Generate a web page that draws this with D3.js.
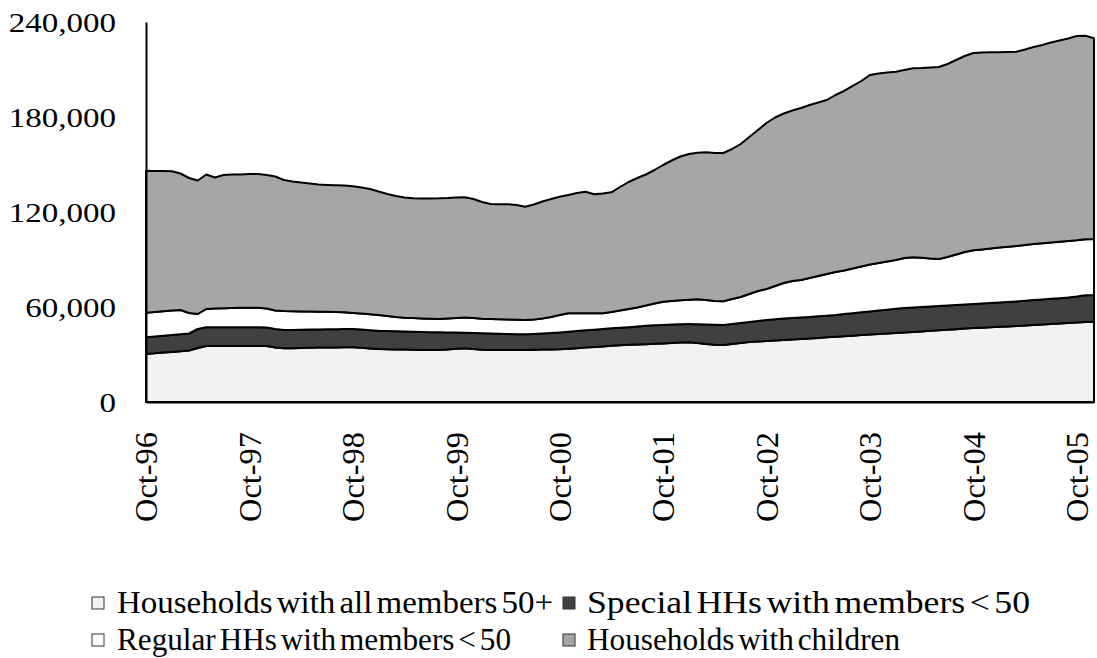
<!DOCTYPE html>
<html><head><meta charset="utf-8">
<script src="https://cdn.jsdelivr.net/npm/d3@7"></script>
<style>
body{margin:0;background:#fff}
svg{display:block}
text{font-family:"Liberation Serif","Times New Roman",serif;fill:#000}
</style>
</head><body>
<svg id="chart" width="1097" height="658"></svg>
<script>
// Monthly categories Oct-1996 .. Dec-2005 (111 months)
const months = d3.timeMonths(new Date(1996, 9, 1), new Date(2006, 0, 1));
const tickMonths = [0, 12, 24, 36, 48, 60, 72, 84, 96, 108];
const tickLabels = ["Oct-96","Oct-97","Oct-98","Oct-99","Oct-00","Oct-01","Oct-02","Oct-03","Oct-04","Oct-05"];
const yTicks = [0, 60000, 120000, 180000, 240000];

const seriesNames = ["Households with all members 50+", "Special HHs with members < 50",
                     "Regular HHs with members < 50", "Households with children"];

const allMembers50 = [
 30320,30760,31200,31580,32020,32530,34110,35370,35370,35370,
 35370,35370,35370,35370,35370,34420,33920,33980,34110,34230,
 34360,34420,34490,34550,34550,34230,33790,33470,33350,33220,
 33100,32970,32840,32840,32840,33160,33600,33920,33470,33030,
 32840,32840,32840,32840,32840,32970,33100,33220,33290,33600,
 33980,34360,34740,35120,35500,35870,36130,36320,36510,36760,
 37010,37260,37520,37710,37260,36630,36130,36000,36630,37260,
 37900,38210,38530,38840,39160,39480,39790,40110,40420,40870,
 41240,41560,41880,42250,42570,42890,43260,43580,43900,44210,
 44590,44970,45290,45660,45980,46360,46670,46930,47180,47500,
 47750,48060,48320,48630,48890,49200,49520,49830,50150,50530,
 50720];

const specialUnder50 = [
 10550,10610,10610,10740,10740,10730,12000,11810,11810,11810,
 11810,11810,11810,11810,11680,11690,11560,11500,11490,11500,
 11430,11500,11490,11560,11560,11560,11560,11560,11490,11500,
 11430,11370,11370,11250,11180,10740,10230,9850,10110,10360,
 10420,10240,10110,9980,9920,9980,10160,10360,10610,10740,
 10860,10930,10920,10990,11050,11000,11110,11370,11620,11750,
 11690,11630,11560,11550,11880,12320,12630,12630,12630,12640,
 12630,12950,13260,13460,13580,13570,13580,13580,13710,13640,
 13710,14020,14210,14400,14590,14900,15040,15290,15470,15480,
 15410,15350,15340,15290,15290,15280,15230,15280,15350,15340,
 15410,15480,15600,15730,15910,15980,16040,16170,16480,16920,
 16860];

const regularUnder50 = [
 15530,15470,15480,15470,15350,12950,9470,11560,11880,12000,
 12190,12320,12380,12380,12010,11680,12000,11870,11620,11430,
 11240,11050,10860,10540,10100,10040,10040,9920,9480,8970,
 8710,8710,8590,8520,8400,8840,9220,9600,9470,9220,
 9160,9150,9160,9100,9030,9160,9480,10110,11050,11680,
 11180,10730,10360,9980,10290,10920,11500,12000,12820,13700,
 14590,14900,15150,15350,15720,15470,15030,14970,15790,16420,
 17680,18950,19580,20970,22420,23370,23690,24630,25450,26330,
 27160,27470,28230,28930,29680,30000,30440,30820,31580,31700,
 31080,30310,29690,30630,31890,33100,33910,34110,34420,34680,
 34860,34990,35240,35430,35500,35560,35620,35690,35500,35310,
 35370];

const withChildren = [
 89690,89060,88610,87920,86210,85270,84320,84950,82730,84190,
 84320,84190,84440,84440,84310,84640,82740,81920,81420,80840,
 80340,80090,80030,80030,80020,79650,79140,78000,77050,76420,
 75920,75610,75730,75990,76240,76110,76110,75980,75160,73710,
 72640,72700,72760,72510,71560,72630,73900,74520,74720,74720,
 75980,76810,75160,75600,75610,78000,80210,81790,82740,84320,
 86400,88740,90830,92030,92600,93290,93480,93670,94740,96630,
 99160,101690,104850,106420,107060,107690,108630,109270,109580,109900,
 111790,113380,115270,117160,119690,119690,119370,118930,118740,119370,
 119870,120640,121270,121900,122850,123790,124620,124420,123920,123410,
 123040,122720,123480,124430,125180,126320,127140,127900,129040,128530,
 126760];

const fills = ["#f2f2f2", "#404040", "#ffffff", "#a6a6a6"];

// ---- build table
const keys = ["a","b","c","d"];
const table = months.map((m, i) => ({i, a: allMembers50[i], b: specialUnder50[i], c: regularUnder50[i], d: withChildren[i]}));
const stacked = d3.stack().keys(keys)(table);

const svg = d3.select("#chart");
svg.append("rect").attr("width",1097).attr("height",658).attr("fill","#fff");

const x = d3.scaleLinear().domain([0, months.length - 1]).range([146, 1094]);
const y = d3.scaleLinear().domain([0, 240000]).range([402, 22]);

const area = d3.area()
  .x(d => x(d.data.i))
  .y0(d => y(d[0]))
  .y1(d => y(d[1]));

svg.append("g").selectAll("path").data(stacked).join("path")
  .attr("d", area)
  .attr("fill", (d, k) => fills[k])
  .attr("stroke", "#000")
  .attr("stroke-width", 2)
  .attr("stroke-linejoin", "round");

const serif = '"Liberation Serif","Times New Roman",serif';

// y axis
const yAxis = svg.append("g").attr("transform", "translate(146,0)")
  .call(d3.axisLeft(y).tickValues(yTicks).tickSize(0).tickSizeOuter(0).tickPadding(30).tickFormat(d3.format(",")));
yAxis.select(".domain").attr("stroke", "#000").attr("stroke-width", 2);
yAxis.selectAll("text")
  .attr("x", 0).attr("dy", "0.33em")
  .attr("transform", "translate(-30,0) scale(1.18,1)")
  .style("font-size", "28px").style("font-family", serif).attr("fill", "#222");

// x axis
const xAxis = svg.append("g").attr("transform", "translate(0,402)")
  .call(d3.axisBottom(x).tickValues(tickMonths).tickSize(0).tickSizeOuter(0)
        .tickFormat((d, k) => tickLabels[k]));
xAxis.select(".domain").attr("stroke", "#000").attr("stroke-width", 2);
xAxis.selectAll("text")
  .attr("transform", "rotate(-90)")
  .attr("x", -30).attr("y", 0).attr("dy", "0.35em")
  .attr("text-anchor", "end")
  .attr("textLength", 90).attr("lengthAdjust", "spacingAndGlyphs")
  .style("font-size", "31px").style("font-family", serif).attr("fill", "#000");

// legend
const legendPos = [
  {sx: 92, tx: 117, cy: 613, len: 436},
  {sx: 563, tx: 587, cy: 613, len: 443},
  {sx: 92, tx: 117, cy: 650, len: 394},
  {sx: 563, tx: 587, cy: 650, len: 313}
];
const lg = svg.append("g").selectAll("g").data(seriesNames).join("g");
lg.append("rect")
  .attr("x", (d, k) => legendPos[k].sx)
  .attr("y", (d, k) => legendPos[k].cy - 16)
  .attr("width", 12).attr("height", 12)
  .attr("fill", (d, k) => fills[k])
  .attr("stroke", "#333").attr("stroke-width", 1);
lg.append("text")
  .attr("x", (d, k) => legendPos[k].tx)
  .attr("y", (d, k) => legendPos[k].cy)
  .attr("textLength", (d, k) => legendPos[k].len)
  .attr("lengthAdjust", "spacingAndGlyphs")
  .style("font-size", "32px")
  .style("word-spacing", "-4px")
  .text(d => d);
</script>
</body></html>
